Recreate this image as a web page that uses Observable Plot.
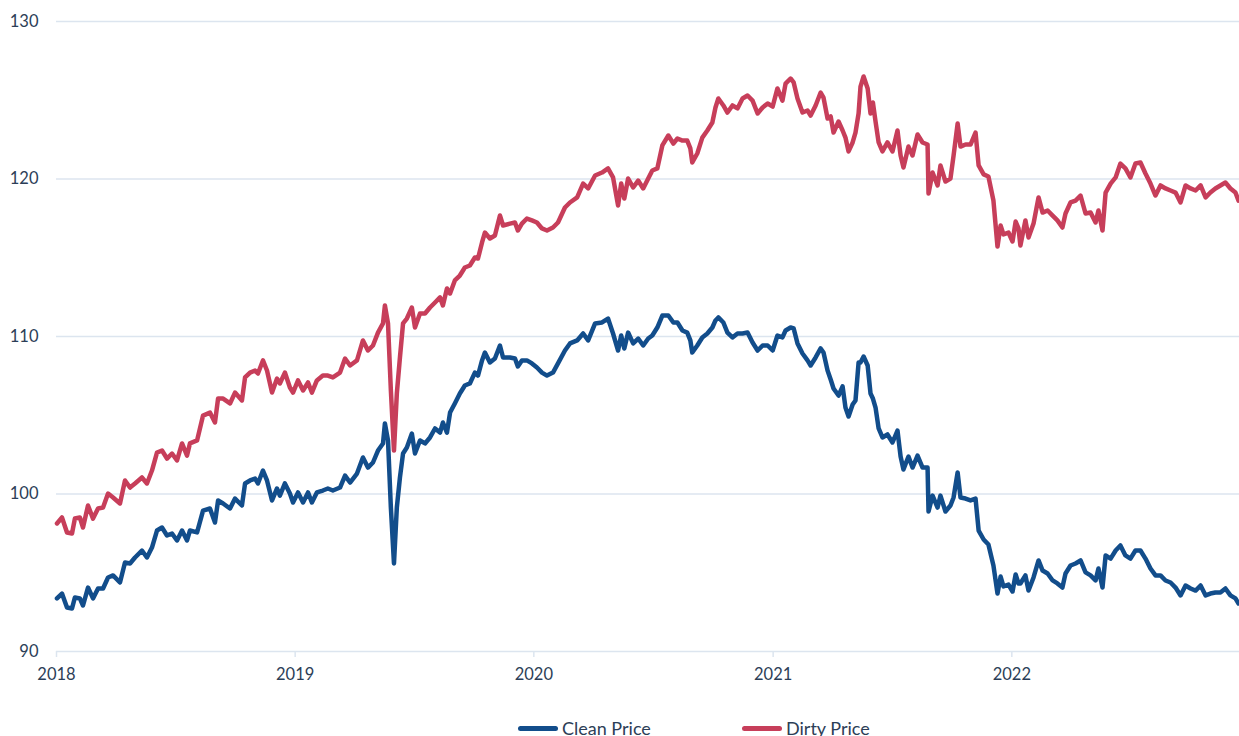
<!DOCTYPE html>
<html>
<head>
<meta charset="utf-8">
<script src="https://cdn.jsdelivr.net/npm/d3@7"></script>
<script src="https://cdn.jsdelivr.net/npm/@observablehq/plot@0.6"></script>
<style>
  html, body { margin: 0; padding: 0; background: #fff; }
  #wrap { position: relative; width: 1239px; height: 736px; overflow: hidden; font-family: Lato, "Noto Sans", sans-serif; }
  .item { position: absolute; top: 718px; height: 20px; display: flex; align-items: center; gap: 4px; font-size: 18px; color: #2c3e57; white-space: nowrap; }
  .sw { width: 40px; height: 5px; border-radius: 3px; display: inline-block; }
</style>
</head>
<body>
<div id="wrap"></div>
<script>
// Decimal-year dates
const dates = [
2018.002,2018.023,2018.044,2018.065,2018.077,2018.098,2018.111,2018.132,2018.153,2018.174,
2018.195,2018.216,2018.237,2018.266,2018.287,2018.308,2018.329,2018.358,2018.379,2018.400,
2018.421,2018.442,2018.463,2018.484,2018.505,2018.526,2018.547,2018.559,2018.589,2018.614,
2018.643,2018.664,2018.677,2018.698,2018.727,2018.748,2018.777,2018.790,2018.811,2018.832,
2018.844,2018.865,2018.882,2018.903,2018.924,2018.936,2018.957,2018.978,2018.991,2019.012,
2019.033,2019.054,2019.070,2019.091,2019.116,2019.137,2019.158,2019.188,2019.209,2019.230,
2019.259,2019.284,2019.305,2019.326,2019.347,2019.368,2019.376,2019.389,2019.401,2019.414,
2019.426,2019.439,2019.452,2019.468,2019.489,2019.502,2019.523,2019.544,2019.565,2019.586,
2019.607,2019.619,2019.636,2019.649,2019.669,2019.690,2019.711,2019.732,2019.753,2019.766,
2019.783,2019.795,2019.816,2019.837,2019.858,2019.871,2019.900,2019.921,2019.933,2019.950,
2019.971,2019.992,2020.013,2020.034,2020.055,2020.080,2020.101,2020.130,2020.151,2020.181,
2020.206,2020.227,2020.256,2020.285,2020.310,2020.331,2020.352,2020.365,2020.378,2020.394,
2020.415,2020.436,2020.457,2020.478,2020.495,2020.516,2020.537,2020.562,2020.583,2020.600,
2020.621,2020.641,2020.654,2020.662,2020.683,2020.704,2020.725,2020.746,2020.759,2020.771,
2020.792,2020.809,2020.830,2020.851,2020.872,2020.893,2020.914,2020.935,2020.956,2020.977,
2020.998,2021.018,2021.039,2021.052,2021.073,2021.086,2021.102,2021.123,2021.144,2021.157,
2021.178,2021.199,2021.211,2021.228,2021.241,2021.253,2021.274,2021.291,2021.303,2021.316,
2021.333,2021.345,2021.358,2021.366,2021.379,2021.396,2021.408,2021.418,2021.429,2021.442,
2021.458,2021.479,2021.500,2021.521,2021.534,2021.546,2021.567,2021.584,2021.605,2021.626,
2021.647,2021.651,2021.668,2021.689,2021.701,2021.722,2021.743,2021.756,2021.773,2021.785,
2021.806,2021.827,2021.848,2021.861,2021.882,2021.902,2021.923,2021.940,2021.953,2021.965,
2021.986,2022.003,2022.016,2022.028,2022.036,2022.057,2022.070,2022.091,2022.112,2022.129,
2022.150,2022.171,2022.191,2022.212,2022.225,2022.246,2022.267,2022.288,2022.309,2022.330,
2022.351,2022.363,2022.380,2022.393,2022.414,2022.435,2022.455,2022.476,2022.497,2022.518,
2022.539,2022.560,2022.581,2022.602,2022.623,2022.644,2022.665,2022.686,2022.707,2022.728,
2022.749,2022.770,2022.791,2022.812,2022.832,2022.853,2022.874,2022.895,2022.916,2022.937,
2022.950
];
const cleanPrice = [
93.37,93.68,92.79,92.73,93.43,93.37,92.92,94.06,93.37,94.00,
94.00,94.70,94.83,94.38,95.65,95.59,95.97,96.41,95.97,96.60,
97.68,97.87,97.37,97.49,97.05,97.68,97.05,97.68,97.56,98.95,
99.08,98.19,99.59,99.40,99.08,99.71,99.27,100.67,100.86,100.98,
100.67,101.49,100.86,99.59,100.35,99.90,100.67,100.03,99.46,100.10,
99.46,100.10,99.46,100.10,100.22,100.35,100.22,100.41,101.17,100.73,
101.30,102.32,101.68,102.00,102.76,103.21,104.48,103.40,99.14,95.59,
99.14,101.05,102.57,102.95,103.84,102.57,103.40,103.21,103.59,104.16,
103.90,104.54,103.90,105.17,105.75,106.38,106.89,107.02,107.71,107.52,
108.48,108.98,108.35,108.60,109.43,108.67,108.67,108.60,108.10,108.48,
108.48,108.29,108.03,107.71,107.52,107.71,108.29,109.11,109.56,109.75,
110.19,109.75,110.83,110.89,111.14,110.19,109.11,110.06,109.24,110.25,
109.56,109.87,109.43,109.87,110.06,110.57,111.33,111.33,110.89,110.89,
110.38,110.25,109.75,108.98,109.43,109.94,110.19,110.57,111.02,111.21,
110.89,110.25,109.94,110.19,110.19,110.25,109.62,109.11,109.43,109.43,
109.11,110.06,109.94,110.38,110.57,110.51,109.56,108.92,108.48,108.16,
108.67,109.24,108.98,107.84,107.27,106.70,106.25,106.83,105.49,104.92,
105.68,105.94,108.35,108.35,108.73,108.16,106.38,106.06,105.49,104.16,
103.59,103.78,103.27,104.03,102.38,101.56,102.38,101.68,102.44,101.68,
101.68,98.89,99.90,99.14,99.90,98.89,99.27,99.78,101.37,99.78,
99.71,99.59,99.71,97.68,97.11,96.79,95.46,93.68,94.76,94.13,
94.25,93.81,94.89,94.32,94.32,94.83,93.87,94.70,95.78,95.14,
94.95,94.51,94.32,94.06,94.95,95.46,95.59,95.78,95.02,94.83,
94.51,95.27,94.06,96.10,95.90,96.41,96.73,96.10,95.90,96.41,
96.41,95.90,95.27,94.83,94.83,94.51,94.38,94.06,93.56,94.19,
94.00,93.87,94.19,93.56,93.68,93.75,93.75,94.00,93.56,93.37,
93.05
];
const dirtyPrice = [
98.13,98.51,97.56,97.49,98.44,98.51,97.87,99.27,98.44,99.08,
99.14,100.03,99.78,99.40,100.86,100.41,100.67,101.05,100.67,101.49,
102.63,102.76,102.25,102.57,102.13,103.21,102.44,103.21,103.40,104.98,
105.17,104.54,106.06,106.06,105.75,106.44,105.94,107.40,107.71,107.84,
107.65,108.48,107.84,106.44,107.33,107.02,107.71,106.76,106.44,107.21,
106.57,107.08,106.44,107.21,107.52,107.52,107.40,107.71,108.60,108.16,
108.48,109.75,109.11,109.43,110.25,110.83,111.97,110.83,106.57,102.76,
106.38,108.67,110.83,111.14,111.84,110.57,111.46,111.46,111.84,112.16,
112.48,111.97,113.05,112.73,113.56,113.87,114.38,114.51,115.02,114.95,
115.97,116.60,116.22,116.41,117.68,117.05,117.17,117.24,116.73,117.17,
117.49,117.37,117.24,116.86,116.73,116.92,117.24,118.19,118.51,118.83,
119.71,119.40,120.22,120.41,120.67,120.10,118.32,119.71,118.76,120.03,
119.46,119.90,119.40,120.03,120.54,120.67,122.13,122.76,122.25,122.57,
122.44,122.44,121.94,121.05,121.62,122.63,123.08,123.59,124.54,125.11,
124.67,124.22,124.67,124.48,125.11,125.30,124.98,124.16,124.54,124.79,
124.60,125.75,124.98,126.06,126.38,126.13,125.11,124.22,124.35,124.03,
124.67,125.49,125.17,123.84,123.97,122.95,123.65,123.08,122.63,121.75,
122.32,122.95,124.16,125.87,126.51,125.75,124.16,124.86,123.65,122.32,
121.75,122.32,121.75,123.08,121.49,120.73,122.06,121.49,122.83,122.32,
122.19,119.08,120.41,119.59,120.86,119.84,120.03,121.49,123.52,122.06,
122.19,122.19,122.95,120.86,120.29,120.16,118.63,115.71,117.05,116.48,
116.60,116.03,117.30,116.86,115.78,117.37,116.29,117.17,118.83,117.87,
118.00,117.68,117.37,116.92,117.81,118.51,118.63,118.95,117.81,117.87,
117.24,118.00,116.73,119.14,119.71,120.10,120.98,120.67,120.10,120.98,
121.05,120.35,119.71,118.95,119.59,119.40,119.27,119.14,118.51,119.59,
119.40,119.27,119.59,118.83,119.14,119.40,119.59,119.78,119.40,119.14,
118.63
];
const seriesNames = ["Clean Price", "Dirty Price"];
const seriesColors = ["#124d8b", "#c73e5a"];
const yTicks = [90, 100, 110, 120, 130];
const xTickYears = [2018, 2019, 2020, 2021, 2022];
const xEnd = 2022.954;

const toDate = t => {
  const y = Math.floor(t);
  const s = Date.UTC(y, 0, 1), e = Date.UTC(y + 1, 0, 1);
  return new Date(s + (t - y) * (e - s));
};
const rows = dates.map((t, i) => ({date: toDate(t), clean: cleanPrice[i], dirty: dirtyPrice[i]}));
const textColor = "#2c3e57";
const gridColor = "#dce5ef";

const chart = Plot.plot({
  width: 1239,
  height: 700,
  marginLeft: 56,
  marginRight: 0,
  marginTop: 21,
  marginBottom: 49,
  style: {fontFamily: "Lato, 'Noto Sans', sans-serif", fontSize: "16.5px", color: textColor, background: "#fff"},
  x: {type: "utc", domain: [toDate(2018), toDate(xEnd)]},
  y: {domain: [90, 130]},
  marks: [
    Plot.gridY(yTicks, {stroke: gridColor, strokeOpacity: 1, strokeWidth: 1.5}),
    Plot.axisY(yTicks, {tickSize: 0, tickPadding: 18, label: null, fill: textColor}),
    Plot.axisX(xTickYears.map(toDate), {tickSize: 6, tickPadding: 11, stroke: gridColor, strokeOpacity: 1, strokeWidth: 1.5, tickFormat: d3.utcFormat("%Y"), label: null, fill: textColor}),
    Plot.lineY(rows, {x: "date", y: "clean", stroke: seriesColors[0], strokeWidth: 4.5, strokeLinejoin: "round", strokeLinecap: "round"}),
    Plot.lineY(rows, {x: "date", y: "dirty", stroke: seriesColors[1], strokeWidth: 4.5, strokeLinejoin: "round", strokeLinecap: "round"})
  ]
});
const wrap = document.getElementById("wrap");
wrap.appendChild(chart);
const lefts = [518, 742];
seriesNames.forEach((name, i) => {
  const it = document.createElement("div");
  it.className = "item";
  it.style.left = lefts[i] + "px";
  const sw = document.createElement("span");
  sw.className = "sw";
  sw.style.background = seriesColors[i];
  const tx = document.createElement("span");
  tx.textContent = name;
  it.appendChild(sw); it.appendChild(tx);
  wrap.appendChild(it);
});
</script>
</body>
</html>
